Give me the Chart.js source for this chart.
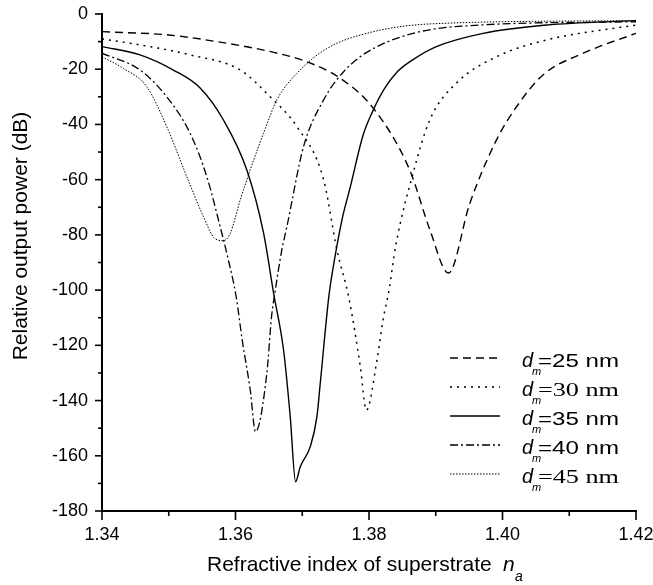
<!DOCTYPE html>
<html lang="en">
<head>
<meta charset="UTF-8">
<title>Relative output power vs refractive index of superstrate</title>
<script src="https://cdn.jsdelivr.net/npm/chart.js"></script>
<style>
  * { margin: 0; padding: 0; box-sizing: border-box; }
  body { background: #fff; width: 653px; height: 585px; overflow: hidden; }
</style>
</head>
<body>
<canvas id="chart" width="653" height="585"></canvas>
<script>
// values: refractive index n_a -> relative output power (dB)
const n25 = [1.340, 1.350, 1.3572, 1.365, 1.3707, 1.3757, 1.3806, 1.3861, 1.3891, 1.3919, 1.3951, 1.3991, 1.4021, 1.4061, 1.4121, 1.420];
const p25 = [-6.4, -7.6, -10, -13.5, -17.3, -23.3, -34, -56.5, -78, -93.8, -68.6, -45.6, -33.6, -22, -14.2, -7];

const n30 = [1.340, 1.3457, 1.3532, 1.3607, 1.3652, 1.3692, 1.3732, 1.3752, 1.3770, 1.3787, 1.3796, 1.3812, 1.3821, 1.3830, 1.3840, 1.3866, 1.3891, 1.3931, 1.3991, 1.4066, 1.420];
const p30 = [-9, -11.2, -14.8, -20.3, -30, -40.8, -60, -85.5, -103, -127.7, -143.5, -125.3, -110.8, -100, -84, -57.7, -38.4, -25, -15.5, -9.4, -4];

const n35 = [1.340, 1.3457, 1.3507, 1.3547, 1.3582, 1.3617, 1.3642, 1.3657, 1.3672, 1.3682, 1.3690, 1.3697, 1.3712, 1.3722, 1.3727, 1.3740, 1.3749, 1.3760, 1.3772, 1.3791, 1.3806, 1.3822, 1.3842, 1.3866, 1.3901, 1.3971, 1.4066, 1.420];
const p35 = [-11.8, -14.8, -20.3, -26.8, -38.4, -56.5, -79.3, -101, -121.7, -145.8, -169.4, -164, -156.7, -145.8, -133.7, -102, -88, -74, -62.6, -44, -35, -27.5, -21, -16.5, -11.8, -7, -4, -2.4];

const n40 = [1.340, 1.3457, 1.3497, 1.3532, 1.3557, 1.3577, 1.3587, 1.3601, 1.3610, 1.3622, 1.3630, 1.3647, 1.3654, 1.3659, 1.3669, 1.3677, 1.3702, 1.3732, 1.3762, 1.3796, 1.3866, 1.3966, 1.420];
const p40 = [-14.2, -20.3, -30, -43.2, -58.9, -77, -86.7, -102.4, -118, -136, -151.3, -130, -109.6, -101, -86, -77, -48, -31.1, -20.9, -14, -7, -4, -2.8];

const n45 = [1.340, 1.3432, 1.3467, 1.3497, 1.3527, 1.3552, 1.3569, 1.3582, 1.3592, 1.3607, 1.3622, 1.3642, 1.3662, 1.3692, 1.3737, 1.3800, 1.3891, 1.420];
const p45 = [-15.5, -19.7, -26.3, -40.8, -58.9, -73.4, -81.3, -82.1, -79.5, -67.4, -56.5, -43.2, -31.1, -21.5, -12.5, -6.8, -3.6, -2.4];

const thicknesses = ['25', '30', '35', '40', '45'];
const xTickLabels = ['1.34', '1.36', '1.38', '1.40', '1.42'];
const yTickLabels = ['0', '-20', '-40', '-60', '-80', '-100', '-120', '-140', '-160', '-180'];

const xMin = 1.34, xMax = 1.42, yMin = -180, yMax = 0;

const sans = "'Liberation Sans', Arial, sans-serif";
const serif = "'Liberation Serif', 'Times New Roman', serif";

// line styles for each d_m curve
const dashes = [[8, 5], [2, 5], [], [8, 3, 2, 3], [1.5, 1.5]];
const widths = [1.4, 1.5, 1.4, 1.3, 1];
const legendFonts = [sans, serif, sans, sans, serif];

function pairs(xs, ys) {
    return xs.map((v, i) => ({ x: v, y: ys[i] }));
}

const series = [[n25, p25], [n30, p30], [n35, p35], [n40, p40], [n45, p45]];

const datasets = series.map((s, i) => ({
    label: 'd_m=' + thicknesses[i] + ' nm',
    data: pairs(s[0], s[1]),
    borderColor: '#000',
    borderWidth: widths[i],
    borderDash: dashes[i],
    pointRadius: 0,
    fill: false,
    cubicInterpolationMode: 'monotone'
}));

// tick marks, axis titles and legend
const decorations = {
    id: 'decorations',
    afterDraw(chart) {
        const { ctx, chartArea: a, scales: { x, y } } = chart;
        ctx.save();
        ctx.strokeStyle = '#000';
        ctx.fillStyle = '#000';
        ctx.lineWidth = 1.6;
        ctx.setLineDash([]);

        for (let v = yMin; v <= yMax; v += 10) {
            const py = y.getPixelForValue(v);
            const len = v % 20 === 0 ? 7 : 4;
            ctx.beginPath();
            ctx.moveTo(a.left - len, py);
            ctx.lineTo(a.left, py);
            ctx.stroke();
        }
        for (let k = 0; k <= 8; k++) {
            const px = x.getPixelForValue(xMin + k * 0.01);
            const len = k % 2 === 0 ? 9 : 5;
            ctx.beginPath();
            ctx.moveTo(px, a.bottom);
            ctx.lineTo(px, a.bottom + len);
            ctx.stroke();
        }

        // y title
        ctx.save();
        ctx.translate(21, 236);
        ctx.rotate(-Math.PI / 2);
        ctx.font = '21px ' + sans;
        ctx.textAlign = 'center';
        ctx.textBaseline = 'middle';
        ctx.fillText('Relative output power (dB)', 0, 0);
        ctx.restore();

        // x title
        ctx.textAlign = 'left';
        ctx.textBaseline = 'alphabetic';
        ctx.font = '21px ' + sans;
        ctx.fillText('Refractive index of superstrate', 207, 571);
        ctx.font = 'italic 21px ' + sans;
        ctx.fillText('n', 503, 571);
        ctx.font = 'italic 14px ' + sans;
        ctx.fillText('a', 515, 581);

        // legend
        for (let i = 0; i < thicknesses.length; i++) {
            const ly = 358 + i * 29;
            ctx.lineWidth = widths[i];
            ctx.setLineDash(dashes[i]);
            ctx.beginPath();
            ctx.moveTo(450, ly);
            ctx.lineTo(500, ly);
            ctx.stroke();
            ctx.setLineDash([]);

            ctx.font = 'italic 20px ' + sans;
            ctx.fillText('d', 522, ly + 9);
            ctx.font = 'italic 11px ' + sans;
            ctx.fillText('m', 532, ly + 17);

            const txt = '=' + thicknesses[i] + ' nm';
            ctx.font = '19px ' + legendFonts[i];
            const w = ctx.measureText(txt).width;
            ctx.save();
            ctx.translate(538, ly + 9);
            ctx.scale(81 / w, 1);
            ctx.fillText(txt, 0, 0);
            ctx.restore();
        }
        ctx.restore();
    }
};

new Chart(document.getElementById('chart'), {
    type: 'line',
    data: { datasets },
    options: {
        responsive: false,
        animation: false,
        layout: { padding: { left: 0, top: 14, right: 17, bottom: 0 } },
        plugins: {
            legend: { display: false },
            tooltip: { enabled: false }
        },
        scales: {
            x: {
                type: 'linear',
                min: xMin,
                max: xMax,
                afterFit: (scale) => {
                    scale.height = 74;
                    scale.paddingLeft = 0;
                    scale.paddingRight = 0;
                },
                afterBuildTicks: (scale) => {
                    scale.ticks = xTickLabels.map(t => ({ value: parseFloat(t) }));
                },
                grid: { display: false, drawTicks: false },
                border: { display: true, color: '#000', width: 2 },
                ticks: {
                    padding: 13,
                    color: '#000',
                    font: { family: sans, size: 18 },
                    maxRotation: 0,
                    callback: (v) => v.toFixed(2)
                }
            },
            y: {
                type: 'linear',
                min: yMin,
                max: yMax,
                afterFit: (scale) => {
                    scale.width = 102;
                    scale.paddingTop = 0;
                    scale.paddingBottom = 0;
                },
                afterBuildTicks: (scale) => {
                    scale.ticks = yTickLabels.map(t => ({ value: parseFloat(t) }));
                },
                grid: { display: false, drawTicks: false },
                border: { display: true, color: '#000', width: 2 },
                ticks: {
                    padding: 14,
                    color: '#000',
                    font: { family: sans, size: 18 },
                    callback: (v) => String(v)
                }
            }
        }
    },
    plugins: [decorations]
});
</script>
</body>
</html>
